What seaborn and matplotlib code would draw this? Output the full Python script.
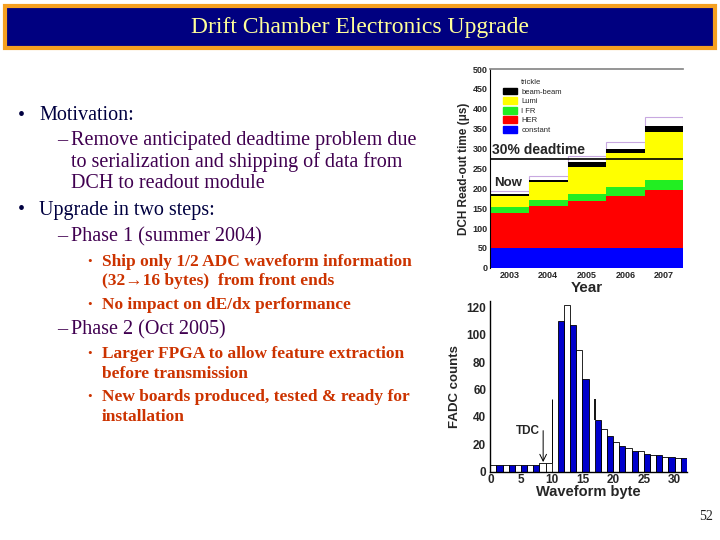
import numpy as np
import pandas as pd
import seaborn as sns
import matplotlib.pyplot as plt
from matplotlib.patches import Rectangle, Patch

# stacked read-out time per year (component heights, us)
years = ["2003", "2004", "2005", "2006", "2007"]
constant = [50, 50, 50, 50, 50]
her = [88, 105, 118, 130, 145]
ifr = [14, 15, 19, 23, 25]
lumi = [28, 45, 66, 85, 122]
beam_beam = [7, 7, 14, 12, 15]
trickle = [6, 10, 15, 16, 23]
deadtime_limit = 275

# FADC waveform samples
fadc_bytes = list(range(32))
fadc_counts = [5, 5, 5, 5, 5, 5, 5, 5, 6, 6, 0, 110, 122, 107, 89, 68,
               0, 38, 31, 26, 22, 19, 17, 15, 15, 13, 12, 12, 11, 11, 10, 10]
window_edges = [10, 17]
window_floor = [6, 38]
window_top = 53
tdc_byte = 8.6

sns.set_theme(style="white")
plt.rcParams["font.family"] = ["Liberation Sans", "DejaVu Sans"]
serif = ["Liberation Serif", "DejaVu Serif"]

fig = plt.figure(figsize=(7.2, 5.4), dpi=100)

# title bar
fig.patches.append(Rectangle((5 / 720, 1 - 48 / 540), 710 / 720, 42 / 540,
                             transform=fig.transFigure, facecolor="#000080",
                             edgecolor="#f5a020", linewidth=3))
fig.text(0.5, 1 - 28 / 540, "Drift Chamber Electronics Upgrade", ha="center",
         va="center", color="#ffff99", fontsize=17, family=serif)

# slide text
navy = "#000040"
purple = "#400050"
orange = "#cc3300"
big, small = 14.5, 12.5
lines = [
    (18, 39, 116, "Motivation:", navy, big, "normal"),
    (57, 71, 141, "Remove anticipated deadtime problem due", purple, big, "normal"),
    (None, 71, 162, "to serialization and shipping of data from", purple, big, "normal"),
    (None, 71, 183, "DCH to readout module", purple, big, "normal"),
    (18, 39, 210, "Upgrade in two steps:", navy, big, "normal"),
    (57, 71, 237, "Phase 1 (summer 2004)", purple, big, "normal"),
    (87, 102, 262, "Ship only 1/2 ADC waveform information", orange, small, "bold"),
    (None, 102, 281, "(32\u219216 bytes)  from front ends", orange, small, "bold"),
    (87, 102, 305, "No impact on dE/dx performance", orange, small, "bold"),
    (57, 71, 330, "Phase 2 (Oct 2005)", purple, big, "normal"),
    (87, 102, 354, "Larger FPGA to allow feature extraction", orange, small, "bold"),
    (None, 102, 374, "before transmission", orange, small, "bold"),
    (87, 102, 397, "New boards produced, tested & ready for", orange, small, "bold"),
    (None, 102, 417, "installation", orange, small, "bold"),
]
for bx, tx, y, s, c, size, weight in lines:
    if bx is not None:
        mark = "\u2013" if bx == 57 else "\u2022"
        fig.text(bx / 720, 1 - y / 540, mark, va="center", color=c,
                 fontsize=size if bx != 87 else size - 3, family=serif)
    fig.text(tx / 720, 1 - y / 540, s, va="center", color=c, fontsize=size,
             fontweight=weight, family=serif)
fig.text(706 / 720, 1 - 516 / 540, "52", ha="center", va="center",
         fontsize=10, color="#202020", family=serif)

# ---- stacked read-out time chart
ax1 = fig.add_axes([0.681, 0.504, 0.268, 0.368])
layers = [("trickle", trickle, "white"), ("beam-beam", beam_beam, "black"),
          ("Lumi", lumi, "#ffff00"), ("I FR", ifr, "#22ee22"),
          ("HER", her, "#ff0000"), ("constant", constant, "#0000ff")]
comp = pd.DataFrame({name: vals for name, vals, _ in layers}, index=years)
tops = comp[comp.columns[::-1]].cumsum(axis=1)
handles = []
for name, _, col in layers:
    edge = "#c8a8e0" if name == "trickle" else col
    sns.barplot(x=years, y=tops[name].values, color=col, width=1,
                edgecolor=edge, linewidth=0.8 if name == "trickle" else 0,
                saturation=1, ax=ax1)
    handles.append(Patch(facecolor=col, edgecolor=col, label=name))
ax1.axhline(deadtime_limit, color="black", lw=1.2)
ax1.text(-0.45, deadtime_limit + 5, "30% deadtime", fontsize=10,
         fontweight="bold", va="bottom")
ax1.text(-0.4, tops["trickle"].iloc[0] + 6, "Now", fontsize=9.5,
         fontweight="bold", va="bottom",
         bbox=dict(facecolor="white", edgecolor="none", pad=0.5))
ax1.set_xlim(-0.5, 4.5)
ax1.set_ylim(0, 500)
ax1.set_yticks(range(0, 501, 50))
ax1.tick_params(labelsize=6.5, pad=2, length=0, bottom=True, top=False,
                labelbottom=True, labeltop=False)
for lab in ax1.get_xticklabels() + ax1.get_yticklabels():
    lab.set_fontweight("bold")
ax1.set_xlabel("Year", fontsize=11, fontweight="bold", labelpad=1)
ax1.set_ylabel("DCH Read-out time (\u03bcs)", fontsize=8.5, fontweight="bold",
               labelpad=2)
ax1.spines["right"].set_visible(False)
ax1.spines["bottom"].set_visible(False)
ax1.spines["top"].set_color("#888888")
ax1.spines["left"].set_color("black")
ax1.spines["left"].set_linewidth(0.8)
ax1.legend(handles=handles, loc="upper left", bbox_to_anchor=(0.03, 0.99),
           frameon=False, fontsize=5.5, handlelength=1.8, handleheight=1.0,
           labelspacing=0.2, handletextpad=0.6)

# ---- FADC waveform histogram
ax2 = fig.add_axes([0.681, 0.1265, 0.273, 0.317])
fadc = pd.DataFrame({"byte": fadc_bytes, "counts": fadc_counts})
fadc["centre"] = fadc["byte"] + 0.5
fadc["shade"] = np.where(fadc["byte"] % 2 == 1, "odd", "even")
fadc.loc[fadc["byte"].isin([8, 9]), "shade"] = "even"
sns.barplot(data=fadc, x="centre", y="counts", hue="shade",
            palette={"odd": "#0000cc", "even": "white"}, native_scale=True,
            width=1, dodge=False, edgecolor="black", linewidth=0.6,
            saturation=1, legend=False, ax=ax2)
ax2.vlines(window_edges, window_floor, window_top, colors="black",
           linewidth=[0.7, 1.3])
ax2.annotate("", xy=(tdc_byte, 5), xytext=(tdc_byte, 32),
             arrowprops=dict(arrowstyle="->", lw=0.7, color="black"))
ax2.text(tdc_byte - 0.6, 30, "TDC", ha="right", va="center", fontsize=8.5,
         fontweight="bold")
ax2.set_xlim(0, 32)
ax2.set_ylim(0, 125)
ax2.set_xticks(range(0, 31, 5))
ax2.set_xticklabels([str(v) for v in range(0, 31, 5)])
ax2.set_yticks(range(0, 121, 20))
ax2.tick_params(labelsize=8.5, length=2, direction="in")
ax2.tick_params(axis="x", pad=2)
ax2.tick_params(axis="y", pad=3)
for lab in ax2.get_xticklabels() + ax2.get_yticklabels():
    lab.set_fontweight("bold")
ax2.set_xlabel("Waveform byte", fontsize=10.5, fontweight="bold", labelpad=-1)
ax2.set_ylabel("FADC counts", fontsize=9.5, fontweight="bold", labelpad=4)
ax2.spines["top"].set_visible(False)
ax2.spines["right"].set_visible(False)
for sp in ("left", "bottom"):
    ax2.spines[sp].set_color("black")
    ax2.spines[sp].set_linewidth(1.0)

fig.savefig("out.png", dpi=100)
